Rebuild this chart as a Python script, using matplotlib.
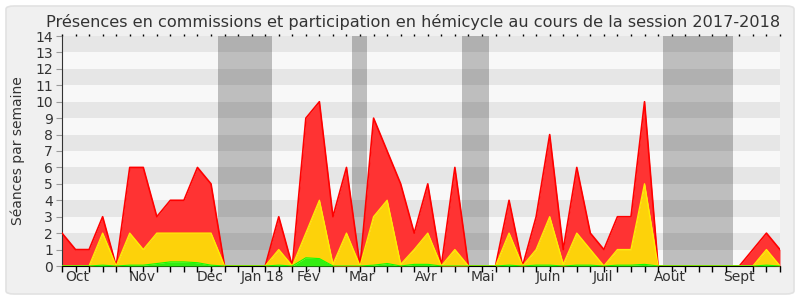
import matplotlib
matplotlib.use("Agg")
import matplotlib.pyplot as plt
from matplotlib.patches import FancyBboxPatch

# weekly values, one point per week of the 2017-2018 session (stack tops)
green_top = [0, 0, 0, 0.05, 0, 0.05, 0.05, 0.15, 0.25, 0.25, 0.2, 0.05, 0,
             0, 0, 0, 0.05, 0, 0.5, 0.45, 0, 0, 0, 0.05, 0.15, 0, 0.1, 0.1,
             0, 0, 0, 0, 0, 0.05, 0, 0.05, 0.05, 0, 0.05, 0.05, 0, 0.05, 0.05,
             0.1, 0, 0, 0, 0, 0, 0, 0, 0, 0.05, 0]
yellow_top = [0, 0, 0, 2, 0, 2, 1, 2, 2, 2, 2, 2, 0,
              0, 0, 0, 1, 0, 2, 4, 0.1, 2, 0, 3, 4, 0.1, 1, 2,
              0, 1, 0, 0, 0, 2, 0, 1, 3, 0.1, 2, 1, 0, 1, 1,
              5, 0, 0, 0, 0, 0, 0, 0, 0, 1, 0]
red_top = [2, 1, 1, 3, 0, 6, 6, 3, 4, 4, 6, 5, 0,
           0, 0, 0, 3, 0, 9, 10, 3, 6, 0, 9, 7, 5, 2, 5,
           0, 6, 0, 0, 0, 4, 0, 3, 8, 1, 6, 2, 1, 3, 3,
           10, 0, 0, 0, 0, 0, 0, 0, 1, 2, 1]
weeks = list(range(len(red_top)))

months = ["Oct", "Nov", "Déc", "Jan 18", "Fév", "Mar", "Avr", "Mai",
          "Juin", "Juil", "Août", "Sept"]
month_pos = [1.1, 5.9, 10.9, 14.8, 18.2, 22.1, 26.9, 31.1, 35.9, 39.9, 44.9, 50.0]

# parliamentary holidays (in week units)
holidays = [(11.5, 15.5), (21.4, 22.5), (29.5, 31.5), (44.4, 49.5)]

fig = plt.figure(figsize=(8, 3), dpi=100)
fig.patch.set_facecolor("white")
panel = FancyBboxPatch((6 / 800, 6 / 300), 788 / 800, 288 / 300,
                       boxstyle="round,pad=0,rounding_size=0.01",
                       transform=fig.transFigure, facecolor="#f0f0f0",
                       edgecolor="#e2e2e2", linewidth=1.2, zorder=-5)
fig.patches.append(panel)

ax = fig.add_axes([62 / 800, 34 / 300, 718 / 800, 230 / 300])
ax.set_zorder(2)
ax.set_facecolor("#f8f8f8")
for k in range(1, 14, 2):
    ax.axhspan(k, k + 1, color="#e6e6e6", lw=0, zorder=0)
for a, b in holidays:
    ax.axvspan(a, b, color="black", alpha=0.23, lw=0, zorder=1)

ax.fill_between(weeks, yellow_top, red_top, color="#ff3333", lw=0, zorder=2)
ax.fill_between(weeks, green_top, yellow_top, color="#fdd20a", lw=0, zorder=3)
ax.fill_between(weeks, 0, green_top, color="#33ee11", lw=0, zorder=4)
ax.plot(weeks, red_top, color="#ff0000", lw=1.2, zorder=5)
ax.plot(weeks, yellow_top, color="#ffee00", lw=1, zorder=5)
ax.plot(weeks, green_top, color="#11ff00", lw=0.8, zorder=5)

ax.set_xlim(0, weeks[-1])
ax.set_ylim(0, 14)
ax.set_yticks(range(15))
ax.set_xticks(month_pos)
ax.set_xticklabels(months)
ax.set_xticks(weeks, minor=True)

ax.tick_params(axis="y", labelsize=10, length=4.5, pad=2, color="#999999",
               labelcolor="#333333")
ax.tick_params(axis="x", which="major", length=0, pad=3, labelsize=10,
               labelcolor="#333333")
ax.tick_params(axis="x", which="minor", length=4, width=1, color="black")

# little dotted week marks along the top edge
top = ax.secondary_xaxis("top")
top.set_xticks(weeks)
top.tick_params(length=1.5, width=1, color="black", labeltop=False)
top.spines["top"].set_visible(False)

for s in ["top", "right"]:
    ax.spines[s].set_visible(False)
ax.spines["bottom"].set_color("black")
ax.spines["left"].set_color("#333333")

ax.set_ylabel("Séances par semaine", fontsize=10, color="#333333")
ax.yaxis.set_label_coords(-0.0515, 0.5)

fig.text(413 / 800, 1 - 27 / 300,
         "Présences en commissions et participation en hémicycle au cours de la session 2017-2018",
         ha="center", va="baseline", fontsize=11.6, color="#333333")

fig.savefig("out.png", dpi=100, facecolor=fig.get_facecolor())
